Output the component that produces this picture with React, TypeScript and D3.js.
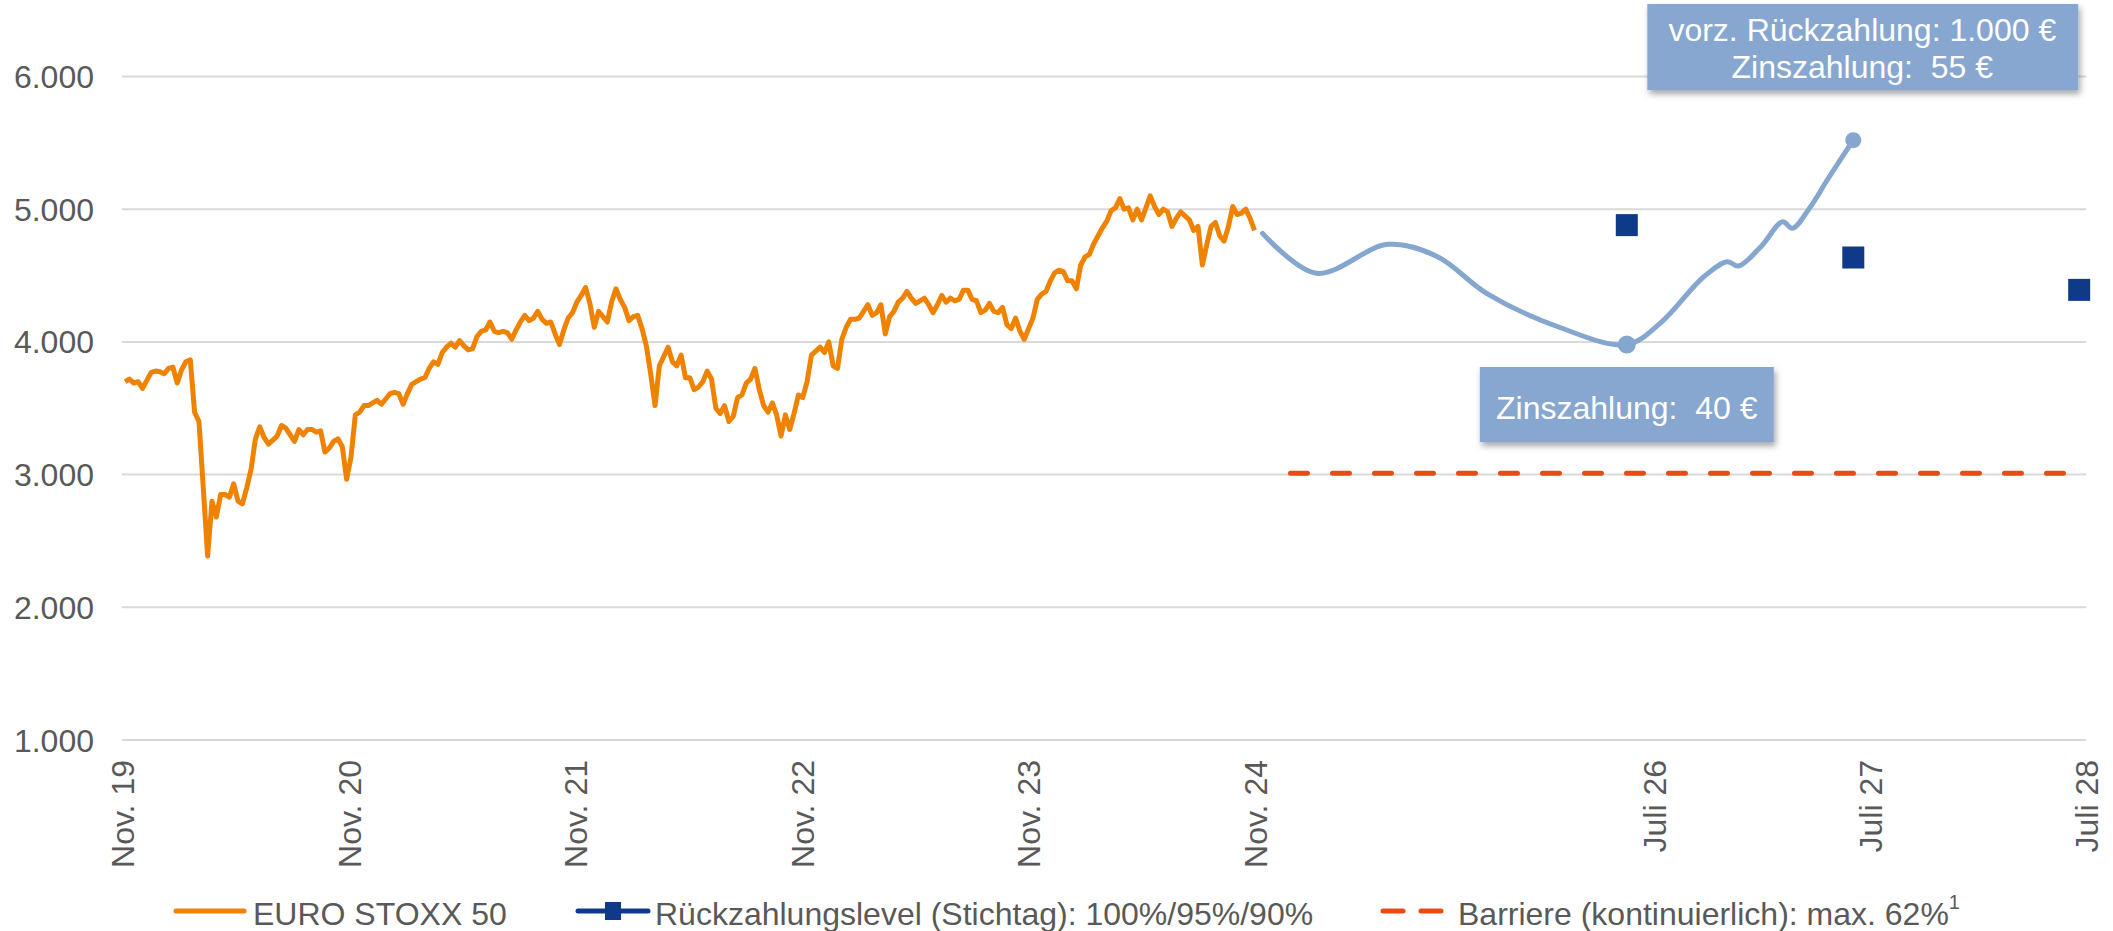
import * as d3 from "d3";

// EURO STOXX 50, Wochenwerte ab 30.10.2019
const stoxxStart = "2019-10-30";
const stoxxWeekly = [
  // 2019
  3620, 3700, 3720, 3690, 3700, 3650, 3710, 3770, 3780,
  // 2020
  3775, 3760, 3800, 3810, 3690, 3790, 3850, 3865, 3470, 3400, 2900, 2386, 2800,
  2680, 2850, 2850, 2830, 2930, 2800, 2780, 2900, 3040, 3270, 3360, 3280, 3230,
  3260, 3290, 3370, 3350, 3300, 3250, 3340, 3300, 3340, 3340, 3320, 3330, 3170,
  3200, 3250, 3270, 3210, 2965, 3130, 3450, 3470, 3520, 3520, 3540, 3560, 3530, 3570,
  // 2021
  3610, 3620, 3610, 3530, 3610, 3680, 3700, 3720, 3730, 3800, 3850, 3830, 3920,
  3960, 3990, 3960, 4010, 3970, 3940, 3950, 4040, 4080, 4090, 4150, 4080, 4070,
  4080, 4070, 4020, 4090, 4150, 4200, 4160, 4180, 4230, 4170, 4140, 4150, 4060,
  3980, 4090, 4180, 4220, 4300, 4350, 4410, 4290, 4110, 4230, 4190, 4150, 4300,
  // 2022
  4400, 4320, 4260, 4160, 4190, 4200, 4100, 3970, 3760, 3520, 3820, 3890, 3960,
  3850, 3820, 3900, 3730, 3730, 3640, 3660, 3700, 3780, 3720, 3500, 3460, 3520,
  3400, 3440, 3580, 3600, 3690, 3720, 3800, 3640, 3520, 3470, 3540, 3450, 3290,
  3450, 3340, 3460, 3600, 3580, 3700, 3900, 3930, 3960, 3920, 4000, 3820, 3800,
  // 2023
  4020, 4110, 4170, 4170, 4180, 4230, 4280, 4200, 4220, 4280, 4060, 4190, 4230,
  4300, 4330, 4380, 4330, 4290, 4310, 4330, 4280, 4220, 4280, 4350, 4300, 4330,
  4310, 4320, 4390, 4390, 4320, 4310, 4220, 4240, 4290, 4230, 4220, 4260, 4130,
  4100, 4180, 4080, 4020, 4100, 4180, 4320, 4360, 4380, 4460, 4520, 4540, 4530,
  // 2024
  4460, 4460, 4400, 4580, 4640, 4660, 4740, 4800, 4860, 4910, 4990, 5010, 5080,
  5000, 5010, 4920, 5000, 4920, 5010, 5100, 5020, 4960, 5000, 4980, 4870, 4930,
  4980, 4950, 4920, 4840, 4870, 4580, 4730, 4870, 4900, 4800, 4760, 4870, 5020,
  4960, 4970, 5000, 4930, 4840,
];

// hypothetischer Verlauf (blaue Linie)
const projectionDates = [
  "2024-11-12", "2025-02-07", "2025-06-02", "2025-08-21", "2025-11-08",
  "2026-03-03", "2026-06-22", "2026-08-15", "2026-10-24", "2026-12-01",
  "2026-12-19", "2027-01-24", "2027-02-28", "2027-03-16", "2027-04-14",
  "2027-05-11", "2027-06-22",
];
const projectionValues = [
  4818, 4517, 4735, 4642, 4366, 4114, 3980, 4142, 4491, 4604,
  4572, 4717, 4905, 4856, 5019, 5220, 5520,
];

// Stichtage und Rückzahlungslevel 100% / 95% / 90%
const observationDates = ["2026-06-22", "2027-06-22", "2028-06-20"];
const redemptionLevels = [4880, 4636, 4392];

// Barriere 62%
const barrierLevel = 3010;
const barrierDates = ["2024-12-27", "2028-07-01"];

const yTicks = [1000, 2000, 3000, 4000, 5000, 6000];
const xTickDates = [
  "2019-11-01", "2020-11-01", "2021-11-01", "2022-11-01", "2023-11-01",
  "2024-11-01", "2026-08-05", "2027-07-19", "2028-07-01",
];
const xTickLabels = [
  "Nov. 19", "Nov. 20", "Nov. 21", "Nov. 22", "Nov. 23",
  "Nov. 24", "Juli 26", "Juli 27", "Juli 28",
];

const noteTop = ["vorz. Rückzahlung: 1.000 €", "Zinszahlung:\u00A0 55 €"];
const noteBottom = "Zinszahlung:\u00A0 40 €";

const legendLabels = [
  "EURO STOXX 50",
  "Rückzahlungslevel (Stichtag): 100%/95%/90%",
  "Barriere (kontinuierlich): max. 62%",
];

const FONT = "'Liberation Sans', Arial, sans-serif";
const GREY = "#595959";
const ORANGE = "#EF8200";
const LIGHTBLUE = "#84A6CF";
const DARKBLUE = "#0E3A87";
const RED = "#E84C16";
const BOXBLUE = "#87A7D0";

const parse = d3.utcParse("%Y-%m-%d");
const de = d3.formatLocale({ decimal: ",", thousands: ".", grouping: [3], currency: ["", " €"] });
const fmt = de.format(",d");

export default function App() {
  const width = 2113;
  const height = 931;

  const x = d3.scaleUtc()
    .domain([parse("2019-11-01")!, parse("2028-07-01")!])
    .range([122, 2086]);

  const y = d3.scaleLinear().domain([1000, 6000]).range([740, 76.5]);

  const start = parse(stoxxStart)!;
  const stoxx = stoxxWeekly
    .map((v, i) => ({ date: d3.utcDay.offset(start, 7 * i), value: v }))
    .filter(d => d.date >= x.domain()[0]);
  const proj = projectionDates.map((d, i) => ({ date: parse(d)!, value: projectionValues[i] }));

  const stoxxLine = d3.line<{ date: Date; value: number }>()
    .x(d => x(d.date))
    .y(d => y(d.value));

  const projLine = d3.line<{ date: Date; value: number }>()
    .x(d => x(d.date))
    .y(d => y(d.value))
    .curve(d3.curveCatmullRom.alpha(0.5));

  const dot1 = { x: x(parse(observationDates[0])!), y: y(projectionValues[6]) };
  const dot2 = { x: x(parse(observationDates[1])!), y: y(projectionValues[projectionValues.length - 1]) };

  const sq = 22;

  return (
    <div style={{ position: "absolute", left: 0, top: 0 }}>
      <svg width={width} height={height} style={{ display: "block", fontFamily: FONT }}>
        <defs>
          <filter id="shadow" x="-10%" y="-20%" width="130%" height="160%">
            <feDropShadow dx="2" dy="4" stdDeviation="3" floodColor="#000" floodOpacity="0.35" />
          </filter>
        </defs>

        {/* Gitternetz und y-Achse */}
        {yTicks.map(t => (
          <g key={t}>
            <line x1={122} x2={2086} y1={y(t)} y2={y(t)} stroke="#D9D9D9" strokeWidth={2} />
            <text x={94} y={y(t)} dy="0.36em" textAnchor="end" fontSize={32} fill={GREY}>
              {fmt(t)}
            </text>
          </g>
        ))}

        {/* x-Achse */}
        {xTickDates.map((d, i) => (
          <text
            key={d}
            transform={`translate(${x(parse(d)!)},760) rotate(-90)`}
            dy="0.36em"
            textAnchor="end"
            fontSize={32}
            fill={GREY}
          >
            {xTickLabels[i]}
          </text>
        ))}

        {/* Barriere */}
        <line
          x1={x(parse(barrierDates[0])!)}
          x2={x(parse(barrierDates[1])!)}
          y1={y(barrierLevel)}
          y2={y(barrierLevel)}
          stroke={RED}
          strokeWidth={5}
          strokeDasharray="17 25"
          strokeLinecap="round"
        />

        {/* EURO STOXX 50 */}
        <path d={stoxxLine(stoxx)!} fill="none" stroke={ORANGE} strokeWidth={5} strokeLinejoin="round" />

        {/* hypothetischer Verlauf */}
        <path d={projLine(proj)!} fill="none" stroke={LIGHTBLUE} strokeWidth={5} strokeLinecap="round" />
        <circle cx={dot1.x} cy={dot1.y} r={9} fill={LIGHTBLUE} />
        <circle cx={dot2.x} cy={dot2.y} r={8} fill={LIGHTBLUE} />

        {/* Rückzahlungslevel */}
        {observationDates.map((d, i) => (
          <rect
            key={d}
            x={x(parse(d)!) - sq / 2}
            y={y(redemptionLevels[i]) - sq / 2}
            width={sq}
            height={sq}
            fill={DARKBLUE}
          />
        ))}

        {/* Anmerkungen */}
        <g>
          <rect x={dot1.x - 147} y={367} width={294} height={75} fill={BOXBLUE} filter="url(#shadow)" />
          <text x={dot1.x} y={419} textAnchor="middle" fontSize={32} fill="#fff">
            {noteBottom}
          </text>
        </g>
        <g>
          <rect x={dot2.x - 206} y={4} width={431} height={86} fill={BOXBLUE} filter="url(#shadow)" />
          <text x={dot2.x + 9} y={41} textAnchor="middle" fontSize={32} fill="#fff">
            {noteTop[0]}
          </text>
          <text x={dot2.x + 9} y={78} textAnchor="middle" fontSize={32} fill="#fff">
            {noteTop[1]}
          </text>
        </g>

        {/* Legende */}
        <g fontSize={32} fill={GREY}>
          <line x1={176} x2={244} y1={911} y2={911} stroke={ORANGE} strokeWidth={5} strokeLinecap="round" />
          <text x={253} y={925}>{legendLabels[0]}</text>

          <line x1={578} x2={648} y1={911} y2={911} stroke={DARKBLUE} strokeWidth={5} strokeLinecap="round" />
          <rect x={605} y={902} width={16} height={18} fill={DARKBLUE} />
          <text x={655} y={925}>{legendLabels[1]}</text>

          <line x1={1383} x2={1403} y1={911} y2={911} stroke={RED} strokeWidth={5} strokeLinecap="round" />
          <line x1={1421} x2={1441} y1={911} y2={911} stroke={RED} strokeWidth={5} strokeLinecap="round" />
          <text x={1458} y={925}>
            {legendLabels[2]}
            <tspan fontSize={20} dy={-16}>1</tspan>
          </text>
        </g>
      </svg>
    </div>
  );
}
